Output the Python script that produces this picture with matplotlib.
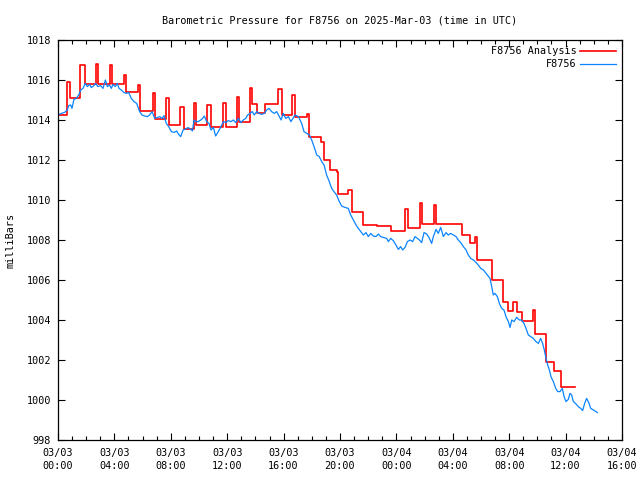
import numpy as np
import pandas as pd
import matplotlib
matplotlib.use('Agg')
import matplotlib.pyplot as plt
import matplotlib.dates as mdates

# hours after 2025-03-03 00:00 UTC, pressure in mb
obs_hours = [0, 0.24, 0.47, 0.66, 0.76, 0.90, 0.99, 1.13, 1.30, 1.47, 1.61, 1.77, 1.94, 2.08, 2.25, 2.36,
             2.55, 2.67, 2.84, 3.03, 3.19, 3.36, 3.50, 3.66, 3.78, 3.90, 4.07, 4.21, 4.33, 4.49, 4.66, 4.85,
             5.01, 5.20, 5.39, 5.58, 5.79, 5.96, 6.15, 6.34, 6.50, 6.67, 6.86, 7.04, 7.21, 7.38, 7.52, 7.68,
             7.85, 8.04, 8.23, 8.42, 8.56, 8.70, 8.87, 9.03, 9.22, 9.41, 9.53, 9.65, 9.81,
             9.95, 10.19, 10.38, 10.54, 10.71, 10.85, 11.02, 11.18, 11.37, 11.56, 11.73, 11.89, 12.08,
             12.27, 12.44, 12.60, 12.79, 12.98, 13.14, 13.31, 13.45, 13.62, 13.78, 13.92, 14.09, 14.25,
             14.44, 14.63, 14.80, 14.96, 15.15, 15.34, 15.51, 15.67, 15.82, 15.98, 16.15, 16.34, 16.52,
             16.81, 17.05, 17.28, 17.45, 17.64, 17.83, 17.99, 18.16, 18.35, 18.53, 18.70, 18.87, 19.05,
             19.24, 19.41, 19.57, 19.76, 19.95, 20.12, 20.35, 20.59, 20.76, 20.95, 21.14, 21.30, 21.47,
             21.66, 21.84, 22.01, 22.18, 22.36, 22.55, 22.72, 22.88, 23.07, 23.31,
             23.43, 23.59, 23.78, 23.97, 24.14, 24.30, 24.44, 24.61, 24.78, 24.97, 25.15, 25.32, 25.49,
             25.63, 25.79, 25.96, 26.15, 26.34, 26.50, 26.62, 26.81, 26.97, 27.14, 27.33, 27.52, 27.68,
             27.85, 28.04, 28.23, 28.39, 28.56, 28.75, 28.94, 29.10, 29.27, 29.46, 29.65, 29.81, 29.98,
             30.17, 30.64, 30.76, 30.87, 30.99, 31.16, 31.30, 31.47, 31.63, 31.77, 31.94, 32.06, 32.18,
             32.34, 32.53, 32.72, 32.88, 33.05, 33.19, 33.36, 33.52, 33.71, 33.90, 34.07, 34.23, 34.37,
             34.49, 34.61, 34.73, 34.85, 34.96, 35.13, 35.30, 35.44, 35.60, 35.77, 35.89, 36.03, 36.19,
             36.31, 36.43, 36.55, 36.74, 36.90, 37.07, 37.21, 37.35, 37.49, 37.64, 37.78, 37.97, 38.16,
             38.25]
obs_mb = [1014.25, 1014.33, 1014.38, 1014.5, 1014.72, 1014.75, 1014.58, 1015.03, 1015.08, 1015.25, 1015.5,
          1015.58, 1015.83, 1015.67, 1015.78, 1015.62, 1015.72, 1015.83, 1015.67, 1015.72, 1015.58, 1016.0,
          1015.67, 1015.75, 1015.58, 1015.78, 1015.67, 1015.83, 1015.58, 1015.5, 1015.38, 1015.33, 1015.38,
          1015.08, 1014.92, 1014.83, 1014.42, 1014.25, 1014.2, 1014.17, 1014.25, 1014.42, 1014.08, 1014.12,
          1014.17, 1014.08, 1014.22, 1013.83, 1013.67, 1013.42, 1013.38, 1013.45, 1013.28, 1013.17, 1013.5,
          1013.55, 1013.62, 1013.55, 1013.45, 1014.0, 1013.92,
          1013.92, 1014.03, 1014.2, 1013.92, 1013.83, 1013.5, 1013.63, 1013.2, 1013.42, 1013.67, 1013.92,
          1013.87, 1013.97, 1013.92, 1014.0, 1013.87, 1014.08, 1013.87, 1014.0, 1014.08, 1014.25, 1014.33,
          1014.42, 1014.25, 1014.42, 1014.33, 1014.28, 1014.33, 1014.5, 1014.58, 1014.42, 1014.33, 1014.42,
          1014.2, 1014.0, 1014.33, 1014.08, 1014.17, 1013.92,
          1014.25, 1014.17, 1013.83, 1013.42, 1013.33, 1013.25, 1013.0, 1012.67, 1012.25, 1012.17, 1011.92,
          1011.75, 1011.25, 1010.92, 1010.58, 1010.42, 1010.25, 1009.92, 1009.7, 1009.63, 1009.58, 1009.25,
          1009.0, 1008.75, 1008.58, 1008.42, 1008.25, 1008.37, 1008.17, 1008.33, 1008.2, 1008.17, 1008.3,
          1008.17, 1008.13, 1008.08,
          1007.92, 1008.08, 1007.97, 1007.75, 1007.53, 1007.67, 1007.5, 1007.63, 1007.92, 1008.0, 1007.92,
          1008.17, 1008.08, 1008.0, 1007.87, 1008.37, 1008.3, 1008.08, 1007.83, 1008.17, 1008.53, 1008.33,
          1008.63, 1008.17, 1008.37, 1008.25, 1008.33, 1008.25, 1008.17, 1008.0, 1007.87, 1007.67, 1007.5,
          1007.25, 1007.08, 1007.0, 1006.87, 1006.75, 1006.58, 1006.5,
          1006.08, 1005.67, 1005.25, 1005.33, 1005.17, 1004.83, 1004.58, 1004.5, 1004.17, 1003.92, 1003.63,
          1004.0, 1003.92, 1004.13, 1004.0, 1004.0, 1003.83, 1003.58, 1003.25, 1003.17, 1003.08, 1002.92,
          1002.83, 1003.08, 1002.83, 1002.5, 1002.08, 1001.75, 1001.5, 1001.17, 1000.92, 1000.58, 1000.42,
          1000.42, 1000.58, 1000.17, 999.92, 1000.03, 1000.33, 1000.25, 999.92, 999.8, 999.67, 999.58,
          999.47, 999.83, 1000.08, 999.87, 999.58, 999.5, 999.42, 999.37]

ana_hours = [0, 0.66, 0.85, 1.56, 1.89, 2.67, 2.84, 3.66, 3.83, 4.68, 4.82, 5.67, 5.82, 6.71, 6.90, 7.68,
             7.87, 8.65, 8.91, 9.62, 9.79, 10.59, 10.83, 11.73, 11.89, 12.72, 12.84, 13.62, 13.78, 14.09,
             14.68, 15.63, 15.91, 16.57, 16.81, 17.64, 17.78, 18.63, 18.87, 19.29, 19.76, 19.88, 20.59,
             20.83, 21.66, 22.6, 23.6, 24.61, 24.85, 25.67, 25.84, 26.67, 26.81, 28.63, 29.22, 29.57,
             29.74, 30.78, 31.58, 31.94, 32.25, 32.58, 32.93, 33.71, 33.83, 34.59, 35.18, 35.67, 36.67]
ana_mb = [1014.25, 1015.9, 1015.1, 1016.75, 1015.8, 1016.8, 1015.8, 1016.75, 1015.8, 1016.25, 1015.4,
          1015.75, 1014.45, 1015.35, 1014.05, 1015.1, 1013.75, 1014.65, 1013.55, 1014.85, 1013.75, 1014.75,
          1013.67, 1014.83, 1013.67, 1015.13, 1013.92, 1015.58, 1014.8, 1014.33, 1014.8, 1015.53, 1014.25,
          1015.25, 1014.13, 1014.28, 1013.17, 1012.92, 1012.0, 1011.5, 1011.42, 1010.28, 1010.5, 1009.42,
          1008.75, 1008.7, 1008.45, 1009.53, 1008.58, 1009.83, 1008.8, 1009.75, 1008.8, 1008.25, 1007.83,
          1008.17, 1007.0, 1006.0, 1004.92, 1004.47, 1004.88, 1004.42, 1003.97, 1004.5, 1003.3, 1001.88,
          1001.45, 1000.67, 1000.67]

start = pd.Timestamp('2025-03-03 00:00')
obs_t = start + pd.to_timedelta(obs_hours, unit='h')
ana_t = start + pd.to_timedelta(ana_hours, unit='h')

plt.rcParams['font.family'] = 'DejaVu Sans Mono'
plt.rcParams['font.size'] = 7.3

fig = plt.figure(figsize=(6.4, 4.8), dpi=100)
ax = fig.add_axes([58/640, 40/480, 564/640, 400/480])

ax.plot(ana_t, ana_mb, color='#ff0000', lw=1.2, drawstyle='steps-post', label='F8756 Analysis')
ax.plot(obs_t, obs_mb, color='#0a84ff', lw=0.9, label='F8756')

ax.set_xlim(start, start + pd.Timedelta(hours=40))
ax.set_ylim(998, 1018)
ax.set_yticks(np.arange(998, 1019, 2))
ax.xaxis.set_major_locator(mdates.HourLocator(byhour=range(0, 24, 4)))
ax.xaxis.set_minor_locator(mdates.HourLocator())
ax.xaxis.set_major_formatter(mdates.DateFormatter('%m/%d\n%H:%M'))
ax.tick_params(which='both', direction='in', top=True, right=True, color='black', width=0.8)
ax.tick_params(which='major', length=5)
ax.tick_params(axis='x', which='major', pad=6)
ax.tick_params(axis='y', which='major', pad=5)
ax.tick_params(which='minor', length=3)
for lbl in ax.get_xticklabels():
    lbl.set_linespacing(1.35)
for s in ax.spines.values():
    s.set_linewidth(0.9)

ax.set_title('Barometric Pressure for F8756 on 2025-Mar-03 (time in UTC)', fontsize=7.3, pad=12)
ax.set_ylabel('milliBars', labelpad=8)
ax.legend(loc='upper right', frameon=False, markerfirst=False, handlelength=3.5,
          handletextpad=0.4, labelspacing=0.3, borderaxespad=0.2)

fig.savefig('out.png', dpi=100)
